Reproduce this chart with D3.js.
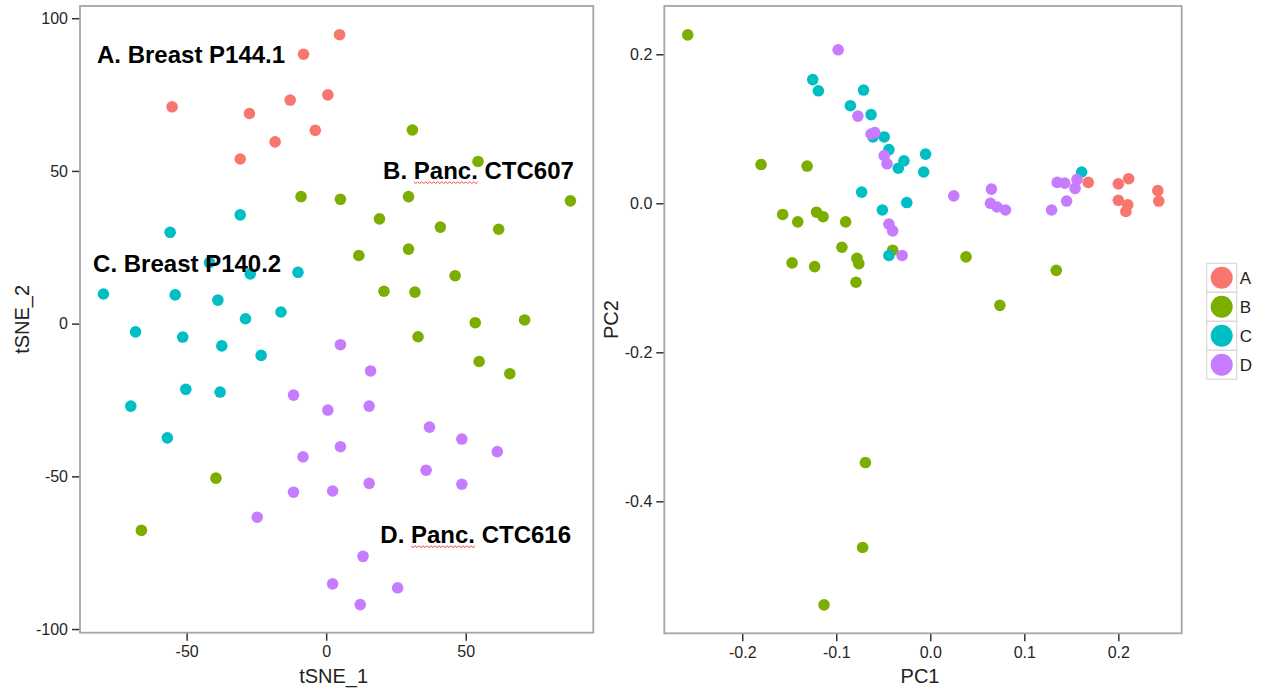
<!DOCTYPE html>
<html>
<head>
<meta charset="utf-8">
<script src="https://cdn.jsdelivr.net/npm/d3@7"></script>
<style>
  body { margin: 0; background: #fff; }
  text { font-family: "Liberation Sans", Arial, sans-serif; }
</style>
</head>
<body>
<div id="chart"></div>
<script>
// Groups and their colours (ggplot default hues)
const GROUPS = ["A", "B", "C", "D"];
const COLORS = ["#F8766D", "#7CAE00", "#00BFC4", "#C77CFF"];

// tSNE coordinates per group, [tSNE_1, tSNE_2]
const tsneA = [[-8.1, 88.2], [4.8, 94.6], [-55.2, 71.0], [-27.5, 68.8], [-12.9, 73.2], [-3.9, 63.3], [0.6, 74.9], [-18.3, 59.5], [-30.8, 53.9]];
const tsneB = [[-9.0, 41.6], [30.9, 63.4], [54.4, 53.1], [5.1, 40.7], [29.5, 41.6], [87.5, 40.2], [19.1, 34.3], [40.9, 31.6], [61.8, 30.9],
    [11.7, 22.3], [29.5, 24.4], [46.2, 15.7], [20.7, 10.6], [31.8, 10.3], [53.4, 0.3], [71.1, 1.2], [32.9, -4.3], [54.8, -12.4],
    [65.8, -16.4], [-39.5, -50.6], [-66.2, -67.7]];
const tsneC = [[-30.8, 35.6], [-55.9, 29.9], [-41.8, 20.0], [-27.2, 16.3], [-10.1, 16.8], [-79.8, 9.7], [-54.1, 9.4], [-38.8, 7.7],
    [-16.2, 3.8], [-28.9, 1.6], [-68.3, -2.7], [-51.4, -4.4], [-37.4, -7.3], [-23.3, -10.4], [-50.3, -21.5], [-38.0, -22.4],
    [-70.0, -27.0], [-56.9, -37.4]];
const tsneD = [[-11.7, -23.4], [-8.3, -43.6], [5.1, -6.9], [15.9, -15.5], [0.6, -28.3], [15.4, -27.0], [37.0, -33.9], [48.6, -37.8],
    [5.1, -40.3], [61.3, -41.9], [-11.7, -55.2], [-24.7, -63.4], [35.8, -48.0], [2.3, -54.8], [15.4, -52.3], [48.6, -52.6],
    [13.2, -76.2], [2.3, -85.2], [25.6, -86.5], [12.2, -92.0]];

// PCA coordinates per group, [PC1, PC2]
const pcaA = [[0.168, 0.028], [0.200, 0.026], [0.211, 0.033], [0.200, 0.004], [0.210, -0.002], [0.208, -0.011], [0.242, 0.017], [0.243, 0.003]];
const pcaB = [[-0.258, 0.226], [-0.180, 0.052], [-0.131, 0.050], [-0.157, -0.015], [-0.141, -0.025], [-0.121, -0.012], [-0.114, -0.018],
    [-0.090, -0.025], [-0.094, -0.059], [-0.147, -0.080], [-0.123, -0.085], [-0.078, -0.074], [-0.076, -0.081], [-0.079, -0.106],
    [-0.040, -0.063], [0.038, -0.072], [0.134, -0.090], [0.074, -0.137], [-0.069, -0.348], [-0.072, -0.462], [-0.113, -0.539]];
const pcaC = [[-0.125, 0.166], [-0.119, 0.151], [-0.071, 0.152], [-0.085, 0.131], [-0.063, 0.119], [-0.061, 0.089], [-0.049, 0.089],
    [-0.044, 0.072], [-0.028, 0.057], [-0.034, 0.047], [-0.005, 0.066], [-0.007, 0.042], [-0.073, 0.015], [-0.025, 0.001],
    [-0.051, -0.009], [-0.044, -0.070], [0.161, 0.042]];
const pcaD = [[-0.098, 0.206], [-0.077, 0.117], [-0.063, 0.093], [-0.059, 0.095], [-0.049, 0.064], [-0.046, 0.053], [-0.044, -0.028],
    [-0.040, -0.037], [-0.030, -0.070], [0.025, 0.010], [0.065, 0.019], [0.064, 0.000], [0.071, -0.005], [0.080, -0.009],
    [0.129, -0.009], [0.145, 0.003], [0.135, 0.028], [0.143, 0.027], [0.154, 0.020], [0.156, 0.032]];

// Tick values
const tsneXTicks = [-50, 0, 50];
const tsneYTicks = [-100, -50, 0, 50, 100];
const pcaXTicks = [-0.2, -0.1, 0.0, 0.1, 0.2];
const pcaYTicks = [-0.4, -0.2, 0.0, 0.2];

// Cluster labels on the tSNE plot, [x, y, label]
const clusterLabels = [[-82.1, 85.4, "A. Breast P144.1"], [20.4, 47.4, "B. Panc. CTC607"],
    [-83.5, 16.9, "C. Breast P140.2"], [19.4, -71.8, "D. Panc. CTC616"]];

const W = 1262, H = 694;
const POINT_R = 5.8;

const svg = d3.select("#chart").append("svg").attr("width", W).attr("height", H);

// hyphen minus like R does
const fmt = f => (v => d3.format(f)(v).replace("\u2212", "-"));

function panel(opts) {
    const x = d3.scaleLinear().domain(opts.xDomain).range([opts.left, opts.right]);
    const y = d3.scaleLinear().domain(opts.yDomain).range([opts.bottom, opts.top]);
    const g = svg.append("g");

    const xAxis = g.append("g")
        .attr("transform", `translate(0,${opts.bottom})`)
        .call(d3.axisBottom(x).tickValues(opts.xTicks).tickSize(8).tickPadding(5).tickFormat(opts.fmtX));
    const yAxis = g.append("g")
        .attr("transform", `translate(${opts.left},0)`)
        .call(d3.axisLeft(y).tickValues(opts.yTicks).tickSize(8).tickPadding(4).tickFormat(opts.fmtY));
    [xAxis, yAxis].forEach(a => {
        a.select(".domain").remove();
        a.selectAll("line").attr("stroke", "#333").attr("stroke-width", 1.5);
        a.selectAll("text").attr("fill", "#262626").style("font-size", "16px");
    });

    g.append("rect")
        .attr("x", opts.left).attr("y", opts.top)
        .attr("width", opts.right - opts.left).attr("height", opts.bottom - opts.top)
        .attr("fill", "none").attr("stroke", "#a6a6a6").attr("stroke-width", 1.8);

    opts.series.forEach((pts, i) => {
        g.append("g").selectAll("circle")
            .data(pts).enter().append("circle")
            .attr("cx", d => x(d[0]))
            .attr("cy", d => y(d[1]))
            .attr("r", POINT_R)
            .attr("fill", COLORS[i]);
    });

    g.append("text")
        .attr("x", (opts.left + opts.right) / 2 - 3).attr("y", 683)
        .attr("text-anchor", "middle").attr("fill", "#222")
        .style("font-size", "20px").text(opts.xTitle);
    g.append("text")
        .attr("transform", `translate(${opts.left - opts.yTitleOff},${(opts.top + opts.bottom) / 2}) rotate(-90)`)
        .attr("text-anchor", "middle").attr("fill", "#222")
        .style("font-size", "20px").text(opts.yTitle);

    return { g, x, y };
}

const left = panel({
    left: 80, right: 593.3, top: 6, bottom: 632.7,
    xDomain: [-88.2, 95.7], yDomain: [-101.2, 104.0],
    xTicks: tsneXTicks, yTicks: tsneYTicks, fmtX: fmt("d"), fmtY: fmt("d"),
    series: [tsneA, tsneB, tsneC, tsneD],
    xTitle: "tSNE_1", yTitle: "tSNE_2", yTitleOff: 51
});

panel({
    left: 664.3, right: 1181.7, top: 6, bottom: 633.3,
    xDomain: [-0.2829, 0.2674], yDomain: [-0.5772, 0.2648],
    xTicks: pcaXTicks, yTicks: pcaYTicks, fmtX: fmt(".1f"), fmtY: fmt(".1f"),
    series: [pcaA, pcaB, pcaC, pcaD],
    xTitle: "PC1", yTitle: "PC2", yTitleOff: 46
});

// cluster annotations, drawn over the points
clusterLabels.forEach(c => {
    const t = left.g.append("text")
        .attr("x", left.x(c[0])).attr("y", left.y(c[1]))
        .attr("fill", "#000").style("font-size", "24px").style("font-weight", "bold");
    const parts = c[2].split(" ");
    if (parts[1] === "Panc.") {
        t.append("tspan").text(parts[0] + " ");
        t.append("tspan").text("Panc.");
        t.append("tspan").text(" " + parts.slice(2).join(" "));
        // red squiggle under "Panc." like in the source screenshot
        const node = t.node();
        const start = node.getSubStringLength(0, parts[0].length + 1);
        const len = node.getSubStringLength(parts[0].length + 1, 5);
        const x0 = left.x(c[0]) + start, yb = left.y(c[1]) + 3.5;
        const pts = d3.range(0, Math.floor(len / 2) + 1).map(k => [x0 + k * 2, yb + (k % 2 ? 1.2 : -0.6)]);
        left.g.append("path")
            .attr("d", d3.line()(pts))
            .attr("fill", "none").attr("stroke", "#e53935").attr("stroke-width", 0.9);
    } else {
        t.text(c[2]);
    }
});

// Legend
const legend = svg.append("g").attr("transform", "translate(1206.7,263.3)");
const KEY = 29;
GROUPS.forEach((grp, i) => {
    legend.append("rect")
        .attr("x", 0).attr("y", i * KEY).attr("width", 30).attr("height", KEY)
        .attr("fill", "#fff").attr("stroke", "#d9d9d9").attr("stroke-width", 1.2);
    legend.append("circle")
        .attr("cx", 15).attr("cy", i * KEY + KEY / 2).attr("r", 11)
        .attr("fill", COLORS[i]);
    legend.append("text")
        .attr("x", 33).attr("y", i * KEY + KEY / 2 + 6)
        .attr("fill", "#222").style("font-size", "17px").text(grp);
});
</script>
</body>
</html>
